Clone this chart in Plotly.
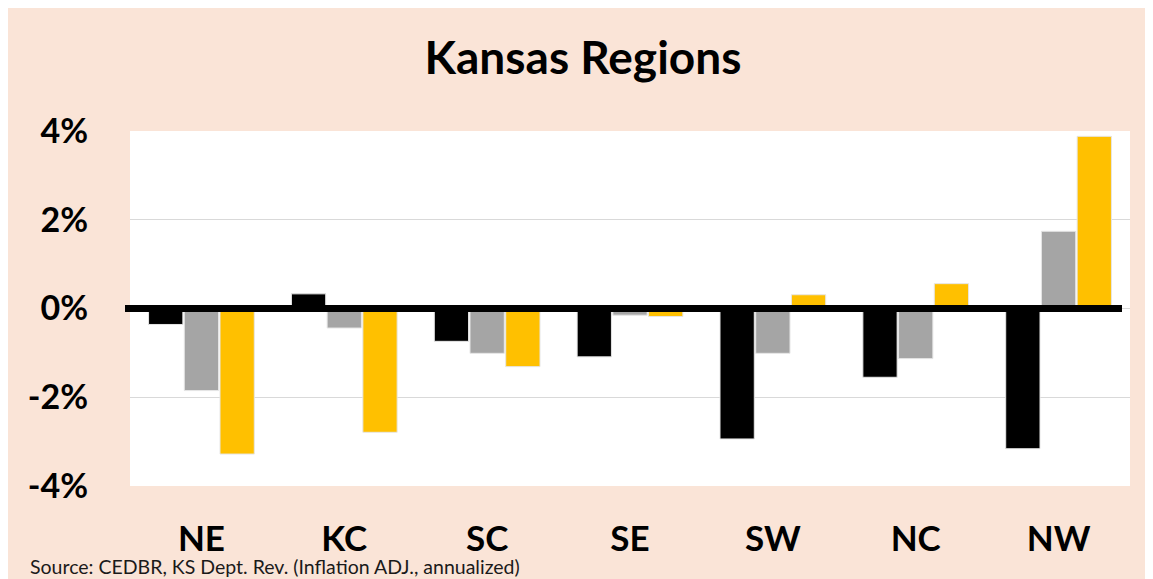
import plotly.graph_objects as go

regions = ["NE", "KC", "SC", "SE", "SW", "NC", "NW"]
series_black = [-0.36, 0.33, -0.74, -1.09, -2.94, -1.55, -3.16]
series_gray = [-1.85, -0.44, -1.01, -0.15, -1.01, -1.13, 1.74]
series_gold = [-3.28, -2.79, -1.31, -0.18, 0.31, 0.56, 3.88]
tick_vals = [-4, -2, 0, 2, 4]
tick_text = ["-4%", "-2%", "0%", "2%", "4%"]

PEACH = "#FAE4D7"
FONT = "Lato"
W, H = 1145, 571

fig = go.Figure()
for vals, col in [(series_black, "#000000"), (series_gray, "#A5A5A5"), (series_gold, "#FFC000")]:
    fig.add_trace(go.Bar(x=regions, y=vals, marker=dict(color=col, line=dict(color="#E6E6E6", width=1)),
                         showlegend=False, hoverinfo="skip"))

fig.update_layout(
    width=W, height=H,
    margin=dict(l=122, r=23, t=123, b=93),
    paper_bgcolor=PEACH, plot_bgcolor="#FFFFFF",
    barmode="group", bargap=0.25, bargroupgap=0.04,
    title=dict(text="<b>Kansas Regions</b>", x=575 / W, xref="container", xanchor="center",
               y=1 - 50 / H, yref="container", yanchor="middle",
               font=dict(family=FONT, size=46, color="#000000")),
    font=dict(family=FONT, color="#000000"),
)
fig.update_yaxes(range=[-4, 4], tickvals=tick_vals, ticktext=[f"<b>{t}</b>" for t in tick_text],
                 tickfont=dict(size=34, color="#000000"), showgrid=True, gridcolor="#D9D9D9", gridwidth=1,
                 zeroline=False, ticks="", ticklabelstandoff=41, showline=False)
fig.update_xaxes(tickvals=regions, ticktext=[f"<b>{r}</b>" for r in regions],
                 tickfont=dict(size=35, color="#000000"), ticks="", ticklabelstandoff=29, showline=False)

# thick zero axis line
fig.add_shape(type="line", xref="paper", yref="y", x0=-0.005, x1=0.992, y0=0, y1=0,
              line=dict(color="#000000", width=7), layer="above")

fig.add_annotation(text="Source: CEDBR, KS Dept. Rev. (Inflation ADJ., annualized)",
                   xref="paper", yref="paper", x=(20 - 122) / 1000, y=(478 - 558) / 355,
                   xanchor="left", yanchor="middle", showarrow=False,
                   font=dict(family=FONT, size=19.5, color="#1A1A1A"))

fig.write_html("out.html")
